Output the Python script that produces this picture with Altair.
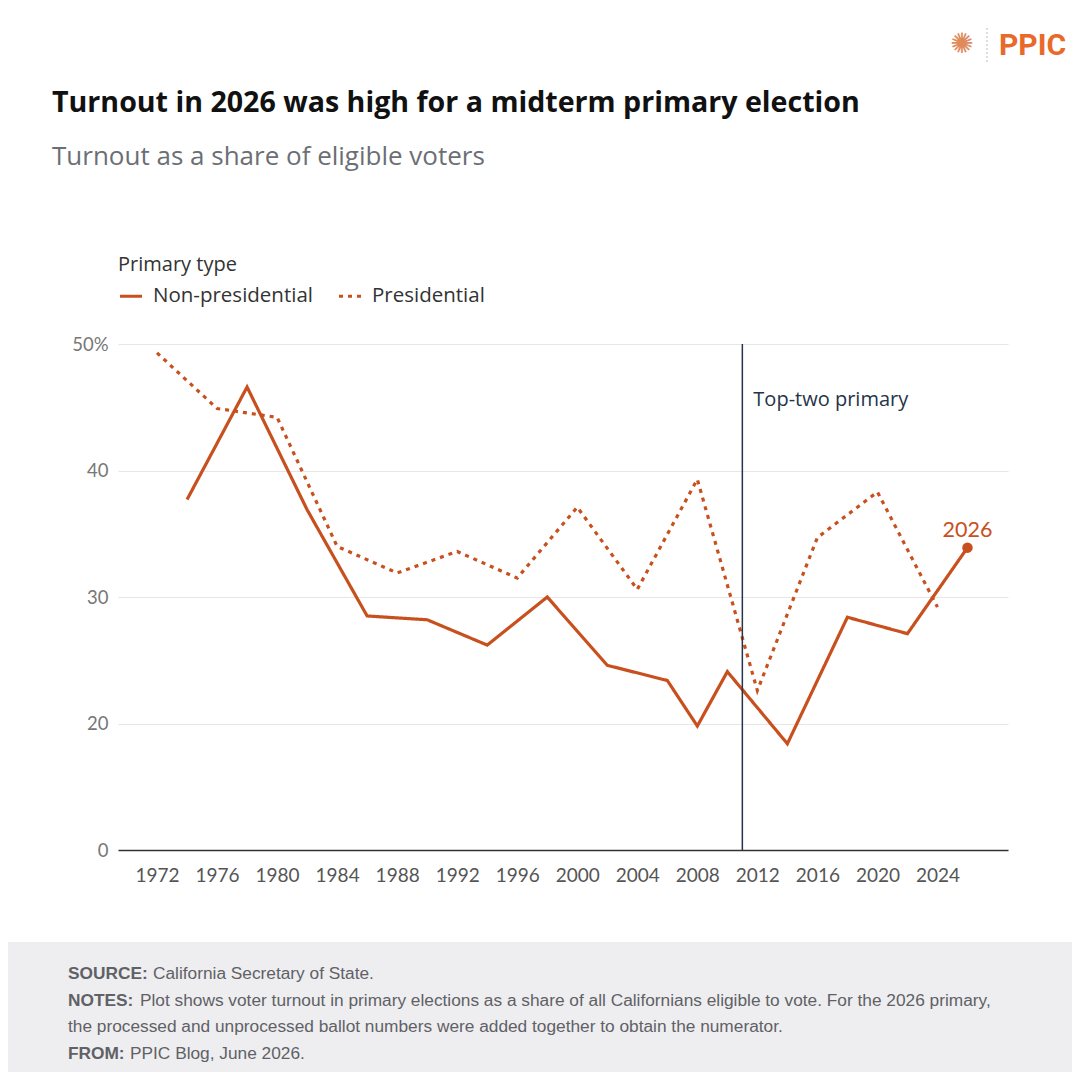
import altair as alt
import pandas as pd

# ---- data ----
np_years = [1974, 1978, 1982, 1986, 1990, 1994, 1998, 2002, 2006, 2008, 2010, 2014, 2018, 2022, 2026]
np_values = [37.7, 46.6, 36.9, 28.5, 28.2, 26.2, 30.0, 24.6, 23.4, 19.8, 24.1, 18.4, 28.4, 27.1, 33.9]
p_years = [1972, 1976, 1980, 1984, 1988, 1992, 1996, 2000, 2004, 2008, 2012, 2016, 2020, 2024]
p_values = [49.3, 44.9, 44.2, 34.0, 31.9, 33.6, 31.5, 37.1, 30.6, 39.3, 22.6, 34.7, 38.3, 29.2]
series_names = ["Non-presidential", "Presidential"]
x_ticks = list(range(1972, 2025, 4))
y_ticks = [10, 20, 30, 40, 50]
top_two_year = [2011]

title_text = "Turnout in 2026 was high for a midterm primary election"
subtitle_text = "Turnout as a share of eligible voters"
footer_bold = ["SOURCE:", "NOTES:", "", "FROM:"]
footer_rest = [
    "California Secretary of State.",
    "Plot shows voter turnout in primary elections as a share of all Californians eligible to vote. For the 2026 primary,",
    "the processed and unprocessed ballot numbers were added together to obtain the numerator.",
    "PPIC Blog, June 2026.",
]

ORANGE = "#c8501e"
NAVY = "#25344a"
W, H = 890, 506
PL, PT = 110, 336
SANS = "Open Sans"

df = pd.DataFrame(
    {"year": np_years + p_years,
     "value": np_values + p_values,
     "type": [series_names[0]] * len(np_years) + [series_names[1]] * len(p_years)}
)
last = pd.DataFrame({"year": [np_years[-1]], "value": [np_values[-1]], "label": [str(np_years[-1])]})

xs = alt.Scale(domain=[1969.4, 2028.7], nice=False, zero=False)
ys = alt.Scale(domain=[10, 50], nice=False, zero=False)

legend = alt.Legend(title="Primary type", orient="none", legendX=0, legendY=-89,
                    direction="horizontal", symbolType="stroke",
                    symbolStrokeWidth=3.2, symbolSize=484,
                    labelFontSize=20.5, titleFontSize=20, titleFontWeight="normal",
                    titleColor="#333333", labelColor="#333333",
                    labelFont=SANS, titleFont=SANS, titlePadding=8,
                    columnPadding=19, labelOffset=9)

base = alt.Chart(df)

lines = base.mark_line(strokeWidth=3.2, strokeJoin="miter").encode(
    x=alt.X("year:Q", scale=xs,
            axis=alt.Axis(values=x_ticks, format="d", title=None, grid=False, ticks=False,
                          domainColor="#333333", domainWidth=1.5, labelFontSize=19,
                          labelColor="#555555", labelPadding=16, labelFont="Lato")),
    y=alt.Y("value:Q", scale=ys,
            axis=alt.Axis(values=y_ticks, title=None, ticks=False, domain=False,
                          gridColor="#e6e6e6", gridWidth=1.2, labelFontSize=18.5,
                          labelColor="#777777", labelPadding=10, labelFont="Lato",
                          labelExpr="datum.value == 10 ? '0' : datum.value == 50 ? '50%' : datum.label")),
    color=alt.Color("type:N", scale=alt.Scale(domain=series_names, range=[ORANGE, ORANGE]), legend=legend),
    strokeDash=alt.StrokeDash("type:N", scale=alt.Scale(domain=series_names, range=[[1, 0], [4, 5]]),
                              legend=legend),
)

rule = alt.Chart(pd.DataFrame({"year": top_two_year})).mark_rule(color=NAVY, strokeWidth=1.5).encode(
    x=alt.X("year:Q", scale=xs)
)
rule_label = alt.Chart(pd.DataFrame({"year": top_two_year, "t": ["Top-two primary"]})).mark_text(
    align="left", baseline="middle", dx=11, fontSize=20, color=NAVY, font=SANS
).encode(x=alt.X("year:Q", scale=xs), y=alt.value(56), text="t:N")

pt = alt.Chart(last).mark_circle(size=110, color=ORANGE, opacity=1).encode(
    x=alt.X("year:Q", scale=xs), y=alt.Y("value:Q", scale=ys)
)
pt_label = alt.Chart(last).mark_text(dy=-17, fontSize=21.5, color=ORANGE, font="Lato").encode(
    x=alt.X("year:Q", scale=xs), y=alt.Y("value:Q", scale=ys), text="label:N"
)

# ---- header / footer ----
title = alt.Chart(pd.DataFrame({"t": [title_text]})).mark_text(
    align="left", baseline="middle", fontSize=28.6, fontWeight="bold", color="#111111", font=SANS
).encode(x=alt.value(52 - 8 - PL), y=alt.value(103 - 8 - PT), text="t:N")
subtitle = alt.Chart(pd.DataFrame({"t": [subtitle_text]})).mark_text(
    align="left", baseline="middle", fontSize=26, color="#6b6f75", font=SANS
).encode(x=alt.value(52 - 8 - PL), y=alt.value(157 - 8 - PT), text="t:N")

footer_bg = alt.Chart(pd.DataFrame({"a": [0]})).mark_rect(color="#eeeef0").encode(
    x=alt.value(-PL), x2=alt.value(1064 - PL), y=alt.value(942 - 8 - PT), y2=alt.value(1072 - 8 - PT)
)
fy = [974, 1001, 1027, 1054]
fdx = [85, 72, 0, 62]
foot_df = pd.DataFrame({"b": footer_bold, "r": footer_rest, "y": fy, "dx": fdx})
foot_layers = []
for i in range(4):
    row = foot_df.iloc[[i]]
    if footer_bold[i]:
        foot_layers.append(alt.Chart(row).mark_text(
            align="left", baseline="middle", fontSize=17.3, fontWeight="bold", color="#5f6166",
            font="Liberation Sans").encode(x=alt.value(68 - 8 - PL), y=alt.value(fy[i] - 8 - PT), text="b:N"))
    foot_layers.append(alt.Chart(row).mark_text(
        align="left", baseline="middle", fontSize=17.3, color="#5f6166",
        font="Liberation Sans").encode(x=alt.value(68 - 8 - PL + fdx[i]), y=alt.value(fy[i] - 8 - PT), text="r:N"))

logo_star = alt.Chart(pd.DataFrame({"t": ["✺"]})).mark_text(
    align="center", baseline="middle", fontSize=28, color="#e08a5c", font="DejaVu Sans"
).encode(x=alt.value(962 - 8 - PL), y=alt.value(45 - 8 - PT), text="t:N")
logo_sep = alt.Chart(pd.DataFrame({"a": [0]})).mark_rule(color="#bbbbbb", strokeDash=[2, 2]).encode(
    x=alt.value(987 - 8 - PL), y=alt.value(28 - 8 - PT), y2=alt.value(63 - 8 - PT)
)
logo_txt = alt.Chart(pd.DataFrame({"t": ["PPIC"]})).mark_text(
    align="left", baseline="middle", fontSize=30, fontWeight="bold", color="#e8692a", font="Roboto"
).encode(x=alt.value(999 - 8 - PL), y=alt.value(46 - 8 - PT), text="t:N")

chart = alt.layer(
    footer_bg, lines, rule, rule_label, pt, pt_label, title, subtitle,
    logo_star, logo_sep, logo_txt, *foot_layers
).resolve_scale(color="shared", strokeDash="shared").properties(
    width=W, height=H,
    autosize=alt.AutoSizeParams(type="none"),
    padding={"left": PL, "top": PT, "right": 1064 - PL - W, "bottom": 1064 - PT - H},
).configure(background="white").configure_view(strokeWidth=0, stroke="transparent")

chart.save("out.html", embed_options={"renderer": "svg", "actions": False})
